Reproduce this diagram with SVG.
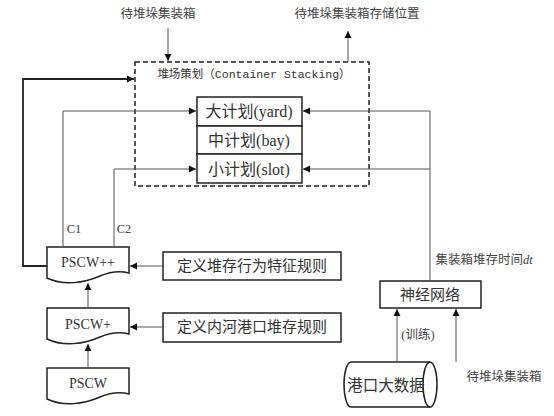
<svg xmlns="http://www.w3.org/2000/svg" width="554" height="416" viewBox="0 0 554 416">
<style>
text{font-family:"Liberation Serif","Noto Sans CJK SC",serif;fill:#333;text-anchor:middle;dominant-baseline:central}
.lbl{font-size:12.5px;fill:#444}
.box{fill:#fff;stroke:#222;stroke-width:1.5}
.conn{fill:none;stroke:#555;stroke-width:1}
.thick{fill:none;stroke:#222;stroke-width:1.8}
.mono{font-family:"Liberation Mono","Noto Sans CJK SC",monospace}
</style>
<defs>
<marker id="ah" markerWidth="8" markerHeight="8" refX="7" refY="4" orient="auto" markerUnits="userSpaceOnUse">
<path d="M0,0.5 L7,4 L0,7.5 Z" fill="#111"/>
</marker>
</defs>
<rect width="554" height="416" fill="#fff"/>

<g id="labels">
<text class="lbl" x="158" y="14">待堆垛集装箱</text>
<text class="lbl" x="357" y="14">待堆垛集装箱存储位置</text>
<text class="lbl" x="74" y="229">C1</text>
<text class="lbl" x="124" y="229">C2</text>
<text class="lbl" x="484" y="260">集装箱堆存时间<tspan font-style="italic">dt</tspan></text>
<text class="lbl" x="418" y="335">(训练)</text>
<text class="lbl" x="504" y="377">待堆垛集装箱</text>
</g>

<g id="container-stacking">
<rect x="135" y="62" width="234" height="124" fill="none" stroke="#222" stroke-width="1.5" stroke-dasharray="5,3"/>
<text class="mono" x="254" y="74" font-size="11.5" fill="#555">堆场策划（Container Stacking）</text>
</g>

<g id="yard"><rect class="box" x="197" y="97" width="105" height="29"/><text x="249" y="111" font-size="16">大计划(yard)</text></g>
<g id="bay"><rect class="box" x="197" y="126" width="105" height="28"/><text x="249" y="140" font-size="16">中计划(bay)</text></g>
<g id="slot"><rect class="box" x="197" y="154" width="105" height="29"/><text x="249" y="169" font-size="16">小计划(slot)</text></g>

<g id="pscwpp"><path class="box" d="M47,278 C64,286 84,283 100,276 C112,271 121,271 129,273 V247 H47 Z"/><text x="88" y="262" font-size="14">PSCW++</text></g>
<g id="pscwp"><path class="box" d="M47,339 C64,347 84,344 100,337 C112,332 121,332 129,334 V308 H47 Z"/><text x="88" y="324" font-size="14">PSCW+</text></g>
<g id="pscw"><path class="box" d="M47,399 C64,407 84,404 100,397 C112,392 121,392 129,394 V368 H47 Z"/><text x="88" y="383" font-size="14">PSCW</text></g>

<g id="rule1"><rect class="box" x="163" y="252" width="178" height="28"/><text x="252" y="266" font-size="15">定义堆存行为特征规则</text></g>
<g id="rule2"><rect class="box" x="163" y="313" width="178" height="29"/><text x="252" y="327" font-size="15">定义内河港口堆存规则</text></g>

<g id="nn"><rect class="box" x="380" y="281" width="101" height="27"/><text x="430" y="295" font-size="15">神经网络</text></g>

<g id="bigdata">
<path class="box" d="M351,362 H430 A7,22.5 0 0 1 430,407 H351 A7,22.5 0 0 1 351,362 Z"/>
<path d="M430,362 A7,22.5 0 0 0 430,407" fill="none" stroke="#222" stroke-width="1.5"/>
<text x="386" y="385" font-size="15.5">港口大数据</text>
</g>

<g id="connectors">
<path class="conn" d="M168,28 V61" marker-end="url(#ah)"/>
<path class="conn" d="M348,62 V31" marker-end="url(#ah)"/>
<path class="thick" d="M47,266 H23 V79 H134" marker-end="url(#ah)"/>
<path class="conn" d="M63,247 V111 H196" marker-end="url(#ah)"/>
<path class="conn" d="M114,247 V169 H196" marker-end="url(#ah)"/>
<path class="conn" d="M430,281 V111 H303" marker-end="url(#ah)"/>
<path class="conn" d="M430,169 H303" marker-end="url(#ah)"/>
<path class="conn" d="M163,266 H130" marker-end="url(#ah)"/>
<path class="conn" d="M163,327 H130" marker-end="url(#ah)"/>
<path class="conn" d="M88,308 V283" marker-end="url(#ah)"/>
<path class="conn" d="M88,368 V344" marker-end="url(#ah)"/>
<path class="conn" d="M397,362 V309" marker-end="url(#ah)"/>
<path class="conn" d="M456,362 V309" marker-end="url(#ah)"/>
</g>
</svg>
